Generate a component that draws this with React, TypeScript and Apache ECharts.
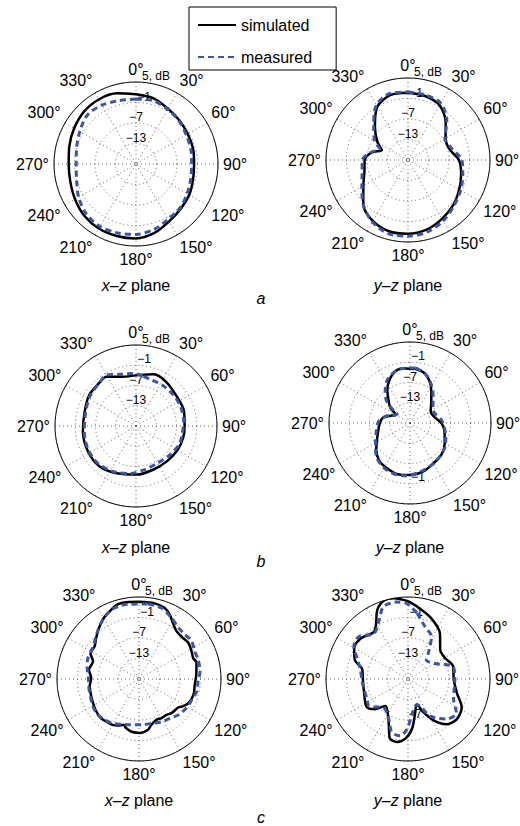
import React, { useEffect, useRef } from 'react';
import * as echarts from 'echarts';

// ---------- data (radius in dB, angle in degrees, clockwise from 0° at top) ----------
const ANGLE_TICKS = [0, 30, 60, 90, 120, 150, 180, 210, 240, 270, 300, 330];
const RADIUS_TICK_LABELS = ['5, dB', '−1', '−7', '−13'];
const SERIES_NAMES = ['simulated', 'measured'];
const PANEL_LETTERS = ['a', 'b', 'c'];

const A_XZ_ANG = [0, 15, 30, 45, 60, 75, 90, 105, 120, 135, 150, 165, 180, 195, 210, 225, 240, 255, 270, 285, 300, 315, 330, 345];
const A_XZ_SIM = [1.4, 0.9, -0.3, -1, -1.5, -1.7, -2, -1.7, -1, -0.5, 0.4, 1.9, 2.8, 2.8, 2.8, 2.4, 1.6, 0.9, 0.7, 1.2, 1.9, 2.6, 2.8, 2.4];
const A_XZ_MEAS = [0, 0.2, -0.5, -1.2, -2, -2.4, -2.7, -2.4, -1.7, -0.8, -0.3, 0.9, 1.6, 1.9, 2.1, 1.6, 0.4, -1, -1.5, -1, 0, 1.2, 0.9, 0.2];

const A_YZ_ANG = [0, 15, 30, 45, 60, 75, 90, 105, 120, 135, 150, 165, 180, 195, 210, 225, 240, 255, 270, 282, 291, 300, 315, 330, 345];
const A_YZ_SIM = [0.7, 0.4, -0.5, -3.4, -6.3, -6.5, -4.1, -2.9, -1.7, -0.3, 0.9, 2.1, 2.6, 2.6, 1.6, -0.5, -3.9, -5.8, -6.3, -8.2, -10.8, -8.7, -5.3, -1, 0.7];
const A_YZ_MEAS = [0.9, 0.7, 0.2, -2.9, -6.5, -5.8, -3.2, -2.4, -1.2, 0, 1.6, 2.8, 3.3, 3.3, 1.9, -0.5, -3.4, -5.1, -5.6, -8, -10.1, -7.7, -4.8, -0.5, 1.2];

const B_XZ_SIM_ANG = [0, 12, 19, 35, 55, 72, 90, 104, 120, 139, 158, 179, 202, 222, 242, 265, 286, 303, 320, 329, 345];
const B_XZ_SIM = [-4, -3.4, -2.8, -3.2, -4.1, -4.1, -4.6, -4.6, -4.8, -5.1, -5.1, -4.6, -3.9, -2.9, -2.9, -3.2, -3.2, -2.4, -2.2, -2, -3.9];
const B_XZ_MEAS_ANG = [8.5, 19, 34, 51, 67, 84, 100, 113, 130, 151, 170, 187, 207, 226, 244, 264, 283, 302, 320, 330, 343, 357];
const B_XZ_MEAS = [-4.1, -4.6, -4.6, -4.6, -4.6, -4.8, -5.1, -5.1, -5.8, -6.3, -5.8, -4.8, -3.9, -3.2, -3.2, -3.6, -3.6, -2.8, -2.2, -1.6, -3, -3.4];

const B_YZ_SIM_ANG = [6.4, 16, 25, 34, 47, 61, 76, 91, 105, 121, 135, 151, 165, 181, 194, 206, 219, 232, 249, 269, 281, 289, 301, 307, 315, 326, 338, 347, 356];
const B_YZ_SIM = [-2.9, -3.6, -5.3, -7.7, -10.4, -12, -11.6, -9.6, -8.4, -7, -5.8, -5.1, -4.1, -3.6, -3.4, -3.9, -4.6, -6.3, -8.7, -10, -10.8, -12.5, -14.2, -11.8, -10.1, -7, -4.1, -2.8, -2.8];
const B_YZ_MEAS_ANG = [6, 18.5, 29, 43, 58, 69, 85, 102, 120, 132, 148, 165, 184, 197, 210, 224, 237, 252, 272, 283, 292, 304, 309, 314, 323, 332, 341, 349];
const B_YZ_MEAS = [-2.6, -3.9, -6, -8.9, -11, -11.1, -9.6, -8.4, -6.8, -6, -5.2, -4.4, -3.3, -3.2, -3.6, -4.8, -6.8, -8.4, -9.6, -11.1, -12.8, -14.4, -11.8, -9.2, -6.8, -4.6, -3.4, -2.7];

const C_XZ_SIM_ANG = [0, 11.7, 19.9, 25.5, 31, 38, 47, 54, 62, 69, 74, 86, 96, 106, 116, 122, 126, 136, 143, 150, 157, 165, 170, 179, 188, 194.5, 199, 204, 210, 218, 224, 233, 242, 252, 261.5, 271, 280.6, 291, 298, 306, 314, 322, 330, 338, 344, 350.6];
const C_XZ_SIM = [3.6, 3.6, 3.1, 1.9, 0.2, -1.2, -1.4, -1.1, -1.6, -2, -1.5, -2.2, -2.6, -2.4, -2.9, -3.9, -4.8, -5.2, -5.8, -5.8, -6, -5.1, -3.9, -3.2, -3.4, -4.1, -4.8, -4.1, -3.5, -3.3, -3, -3.3, -3.8, -4.2, -4.4, -5, -4.1, -4.6, -2.9, -2.9, -1.6, 0, 1.6, 2.8, 3.7, 3.8];
const C_XZ_MEAS_ANG = [7, 17.5, 28, 37, 46, 54, 63.6, 72, 83, 92, 102, 112, 121.5, 132, 142, 152, 162, 177, 189.5, 201, 212, 220, 229, 239, 248.5, 260, 271, 282, 291, 300, 310, 319, 329, 338, 345, 351.6];
const C_XZ_MEAS = [3.1, 2.8, 1.3, 0, -0.3, 0, -0.8, -0.8, -1, -1.7, -1.7, -2.4, -2.7, -3.4, -4.4, -4.8, -5.4, -5.6, -5.4, -4.8, -3.8, -3.4, -3, -3.3, -3.8, -4.1, -4.2, -3.5, -2.9, -2.8, -2, -0.5, 1.4, 2.8, 3.1, 3.1];

const C_YZ_SIM_ANG = [0, 7, 20, 35, 48, 61, 74, 91, 106, 118, 130, 140, 148, 155, 161, 168, 175, 182, 190, 197, 203, 212, 220, 228, 236, 254, 269, 282, 290, 300, 311, 324, 330, 336, 343, 350];
const C_YZ_SIM = [3.8, 2.4, 0.2, -2.7, -6.3, -6.5, -5.3, -5.6, -4.1, -1.2, -0.5, -1.7, -4.6, -8.2, -11.1, -8.9, -4.6, -1.7, -0.3, -0.8, -4.6, -7.7, -8.7, -5.8, -4.4, -5.6, -5.8, -5.3, -2.4, -0.8, -0.8, -2, -0.3, 3.1, 5, 5];
const C_YZ_MEAS_ANG = [8, 18, 29, 37, 44, 60, 75, 91, 114, 125, 136, 149, 161, 173, 181, 188, 197, 205, 220, 235, 243, 265, 281, 291, 301, 311, 323, 334, 341, 351, 359];
const C_YZ_MEAS = [0.4, -2.9, -4.8, -8.9, -11.3, -9.9, -5.3, -5.3, -4.4, -1.7, -2.7, -6.3, -11.1, -8.9, -4.4, -2.2, -2.7, -5.8, -8, -5.1, -5.6, -5.6, -4.8, -3.2, -0.5, 0, -2.4, 0.2, 3.3, 3.8, 3.1];

// ---------- layout (not data) ----------
const FONT = '"Liberation Sans", Arial, Helvetica, sans-serif';
const PANELS = [
  { cx: 136, cy: 164, r: 82, sim: [A_XZ_ANG, A_XZ_SIM], meas: [A_XZ_ANG, A_XZ_MEAS] },
  { cx: 408, cy: 160, r: 82, sim: [A_YZ_ANG, A_YZ_SIM], meas: [A_YZ_ANG, A_YZ_MEAS] },
  { cx: 136, cy: 426, r: 81, sim: [B_XZ_SIM_ANG, B_XZ_SIM], meas: [B_XZ_MEAS_ANG, B_XZ_MEAS] },
  { cx: 410, cy: 423, r: 81, sim: [B_YZ_SIM_ANG, B_YZ_SIM], meas: [B_YZ_MEAS_ANG, B_YZ_MEAS] },
  { cx: 139, cy: 679, r: 82, sim: [C_XZ_SIM_ANG, C_XZ_SIM], meas: [C_XZ_MEAS_ANG, C_XZ_MEAS] },
  { cx: 408, cy: 679, r: 82, sim: [C_YZ_SIM_ANG, C_YZ_SIM], meas: [C_YZ_MEAS_ANG, C_YZ_MEAS] },
];
const TITLE_Y = [285, 547, 800];
const LETTER_Y = [298, 561, 817];
const SIM_COLOR = '#000';
const MEAS_COLOR = '#3c55a5';

function toPolarData(ang: number[], db: number[]) {
  const d = ang.map((a, i) => [db[i], a]);
  d.push([db[0], ang[0] + 360]);
  return d;
}

function radiusLabel(v: number) {
  if (v === 5) return '{u|' + RADIUS_TICK_LABELS[0] + '}';
  if (v === -1) return '{m|' + RADIUS_TICK_LABELS[1] + '}';
  if (v === -7) return '{n|' + RADIUS_TICK_LABELS[2] + '}';
  if (v === -13) return '{n|' + RADIUS_TICK_LABELS[3] + '}';
  return '';
}

export default function App() {
  const ref = useRef<HTMLDivElement>(null);
  useEffect(() => {
    if (!ref.current) return;
    const chart = echarts.init(ref.current, undefined, { renderer: 'svg' });
    const dotted = { color: '#555', type: [1, 3] as any, width: 0.9 };
    const series: any[] = [];
    PANELS.forEach((p, i) => {
      series.push({
        name: SERIES_NAMES[0], type: 'line', coordinateSystem: 'polar', polarIndex: i,
        data: toPolarData(p.sim[0], p.sim[1]), symbol: 'none', smooth: 0.3,
        lineStyle: { color: SIM_COLOR, width: 2.5 }, itemStyle: { color: SIM_COLOR }, z: 3,
      });
    });
    PANELS.forEach((p, i) => {
      series.push({
        name: SERIES_NAMES[1], type: 'line', coordinateSystem: 'polar', polarIndex: i,
        data: toPolarData(p.meas[0], p.meas[1]), symbol: 'none', smooth: 0.3,
        lineStyle: { color: MEAS_COLOR, width: 3, type: [6, 4] }, itemStyle: { color: MEAS_COLOR }, z: 4,
      });
    });

    const graphics: any[] = [];
    PANELS.forEach((p, i) => {
      const row = Math.floor(i / 2);
      graphics.push({
        type: 'text', x: p.cx, y: TITLE_Y[row],
        style: {
          text: i % 2 === 0 ? '{i|x}–{i|z} plane' : '{i|y}–{i|z} plane',
          fontSize: 16, fontFamily: FONT, fill: '#000', align: 'center', verticalAlign: 'middle',
          rich: { i: { fontStyle: 'italic', fontSize: 16, fontFamily: FONT, fill: '#000' } },
        },
      });
    });
    PANEL_LETTERS.forEach((l, k) => {
      graphics.push({
        type: 'text', x: 261, y: LETTER_Y[k],
        style: { text: l, fontSize: 16, fontStyle: 'italic', fontFamily: FONT, fill: '#000', align: 'center', verticalAlign: 'middle' },
      });
    });
    // stray tick labels printed near the bottom of two patterns
    graphics.push({ type: 'text', x: 418, y: 477, z: 1, style: { text: '−1', fontSize: 12, fontFamily: FONT, fill: '#000', align: 'center', verticalAlign: 'middle' } });
    graphics.push({ type: 'text', x: 415, y: 714, z: 1, style: { text: '−7', fontSize: 12, fontFamily: FONT, fill: '#000', align: 'center', verticalAlign: 'middle' } });

    chart.setOption({
      animation: false,
      backgroundColor: '#fff',
      legend: {
        data: SERIES_NAMES, orient: 'vertical', left: 189, top: 7,
        padding: [10, 24, 5, 8], itemWidth: 38, itemHeight: 14, itemGap: 16,
        borderColor: '#000', borderWidth: 1, borderRadius: 0,
        itemStyle: { opacity: 0 },
        textStyle: { fontSize: 16, color: '#000', fontFamily: FONT },
      },
      polar: PANELS.map((p) => ({ center: [p.cx, p.cy], radius: p.r })),
      angleAxis: PANELS.map((p, i) => ({
        polarIndex: i, type: 'value', min: 0, max: 360, interval: 30, startAngle: 90, clockwise: true,
        axisLine: { show: true, lineStyle: { color: '#000', width: 1 } },
        axisTick: { show: false },
        axisLabel: {
          margin: 5, color: '#000', fontSize: 16, fontFamily: FONT,
          formatter: (v: number) => (ANGLE_TICKS.indexOf(v) >= 0 ? v + '°' : ''),
        },
        splitLine: { show: true, lineStyle: dotted },
      })),
      radiusAxis: PANELS.map((p, i) => ({
        polarIndex: i, type: 'value', min: -19, max: 5, interval: 6,
        axisLine: { show: false }, axisTick: { show: false },
        axisLabel: {
          margin: 0, align: 'center', verticalAlign: 'bottom', color: '#000', fontSize: 12, fontFamily: FONT,
          formatter: radiusLabel,
          rich: {
            u: { padding: [0, 0, 0, 40], fontSize: 12, fontFamily: FONT, color: '#000' },
            m: { padding: [0, 0, 0, 16], fontSize: 12, fontFamily: FONT, color: '#000' },
            n: { fontSize: 12, fontFamily: FONT, color: '#000' },
          },
        },
        splitLine: { show: true, lineStyle: dotted },
        z: 1,
      })),
      graphic: graphics,
      series,
    });
    return () => chart.dispose();
  }, []);
  return <div ref={ref} style={{ position: 'fixed', left: 0, top: 0, width: 520, height: 826 }} />;
}
